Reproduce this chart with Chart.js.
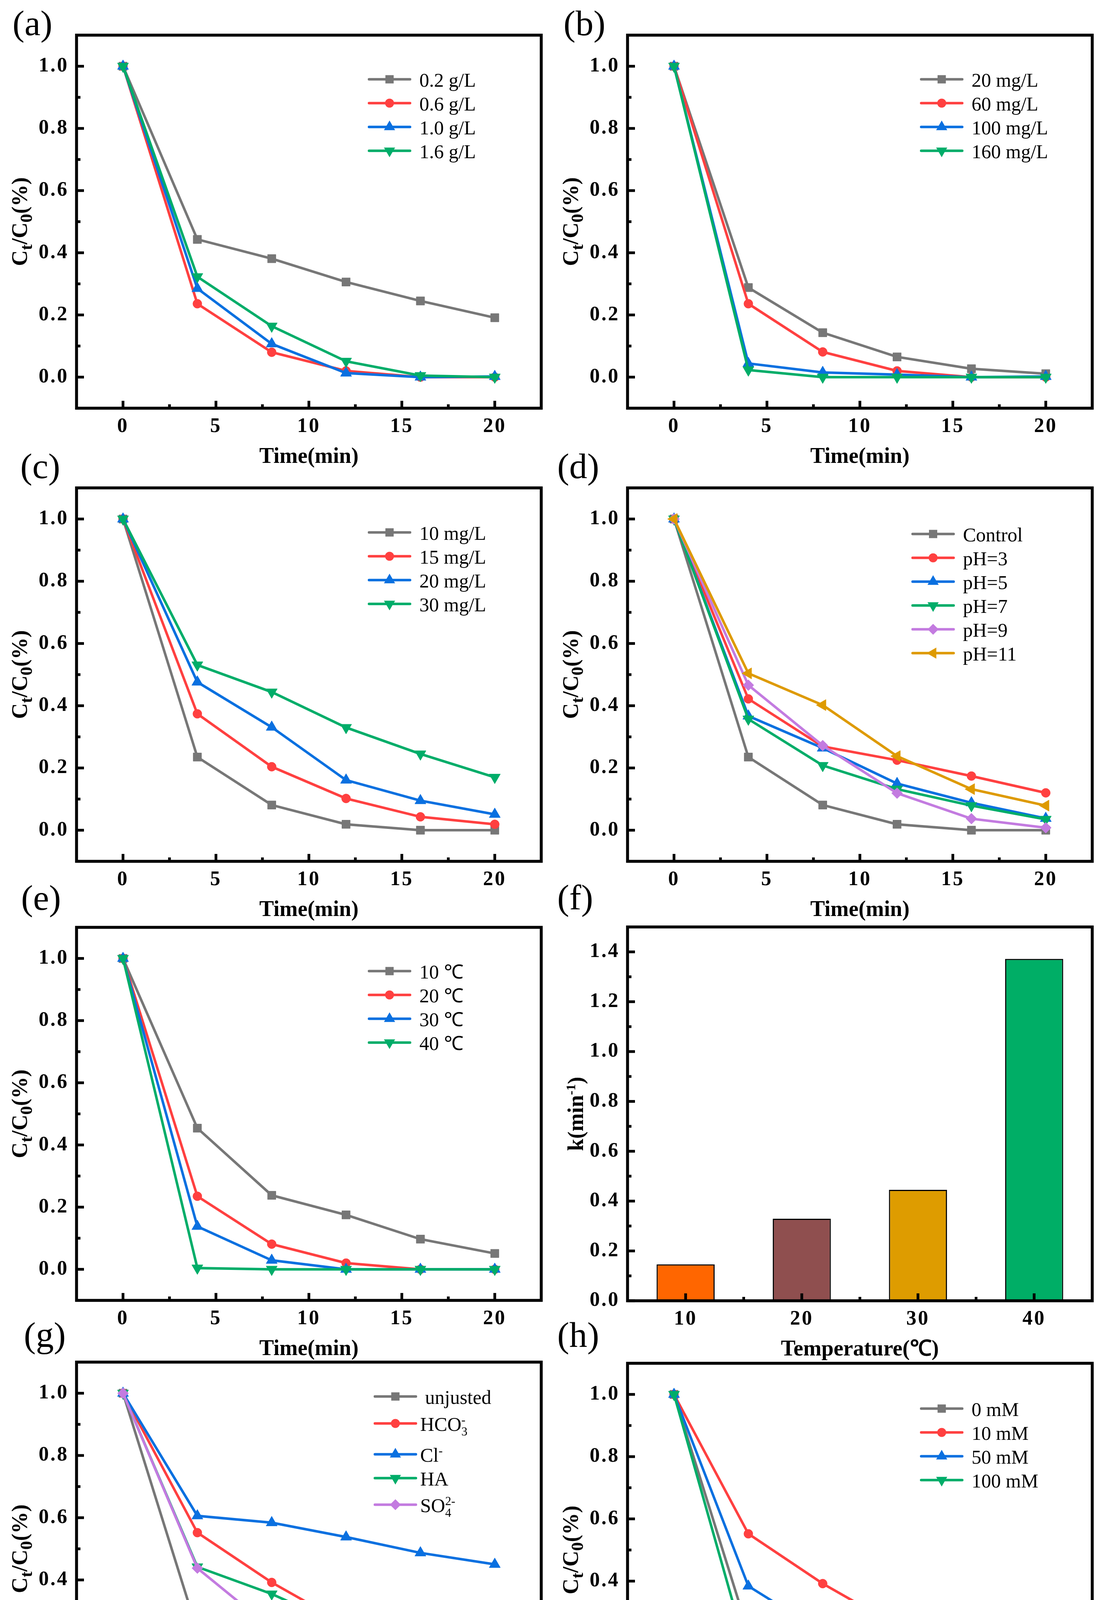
<!DOCTYPE html>
<html>
<head>
<meta charset="utf-8">
<title>Degradation kinetics</title>
<script src="https://cdn.jsdelivr.net/npm/chart.js@4.4.1/dist/chart.umd.min.js"></script>
<style>
  html, body { margin: 0; padding: 0; background: #fff; }
  #page { position: relative; width: 2822px; height: 4625px; overflow: hidden; background: #fff; }
  #page canvas { position: absolute; }
</style>
</head>
<body>
<div id="page"></div>
<script>
// shared axes of the kinetic panels
const timeMin = [0, 4, 8, 12, 16, 20];
const timeTicks = [0, 5, 10, 15, 20];
const timeMinorTicks = [2.5, 7.5, 12.5, 17.5];
const ratioTicks = [0, 0.2, 0.4, 0.6, 0.8, 1.0];
const ratioMinorTicks = [0.1, 0.3, 0.5, 0.7, 0.9];

// (a) catalyst dosage
const dosageLabels = ['0.2 g/L', '0.6 g/L', '1.0 g/L', '1.6 g/L'];
const dosage02 = [1.0, 0.443, 0.381, 0.306, 0.245, 0.191];
const dosage06 = [1.0, 0.236, 0.080, 0.020, 0.0, 0.0];
const dosage10 = [1.0, 0.285, 0.107, 0.013, 0.0, 0.002];
const dosage16 = [1.0, 0.323, 0.164, 0.051, 0.005, 0.0];

// (b) oxidant concentration
const oxidantLabels = ['20 mg/L', '60 mg/L', '100 mg/L', '160 mg/L'];
const oxidant20 = [1.0, 0.288, 0.143, 0.065, 0.027, 0.011];
const oxidant60 = [1.0, 0.236, 0.081, 0.020, 0.0, 0.0];
const oxidant100 = [1.0, 0.044, 0.015, 0.008, 0.0, 0.002];
const oxidant160 = [1.0, 0.023, 0.0, 0.0, 0.0, 0.0];

// (c) pollutant concentration
const pollutantLabels = ['10 mg/L', '15 mg/L', '20 mg/L', '30 mg/L'];
const pollutant10 = [1.0, 0.235, 0.081, 0.019, 0.0, 0.0];
const pollutant15 = [1.0, 0.374, 0.204, 0.102, 0.043, 0.019];
const pollutant20 = [1.0, 0.476, 0.331, 0.161, 0.095, 0.051];
const pollutant30 = [1.0, 0.531, 0.444, 0.330, 0.245, 0.170];

// (d) initial pH
const phLabels = ['Control', 'pH=3', 'pH=5', 'pH=7', 'pH=9', 'pH=11'];
const phControl = [1.0, 0.235, 0.081, 0.019, 0.0, 0.0];
const ph3 = [1.0, 0.422, 0.269, 0.225, 0.174, 0.120];
const ph5 = [1.0, 0.367, 0.264, 0.150, 0.088, 0.038];
const ph7 = [1.0, 0.357, 0.208, 0.132, 0.079, 0.035];
const ph9 = [1.0, 0.466, 0.272, 0.119, 0.037, 0.008];
const ph11 = [1.0, 0.504, 0.402, 0.238, 0.132, 0.079];

// (e) temperature
const tempLabels = ['10 ℃', '20 ℃', '30 ℃', '40 ℃'];
const temp10 = [1.0, 0.454, 0.238, 0.175, 0.097, 0.051];
const temp20 = [1.0, 0.235, 0.081, 0.020, 0.0, 0.0];
const temp30 = [1.0, 0.138, 0.029, 0.0, 0.0, 0.0];
const temp40 = [1.0, 0.004, 0.0, 0.0, 0.0, 0.0];

// (f) rate constants
const tempCategories = ['10', '20', '30', '40'];
const rateK = [0.146, 0.329, 0.445, 1.372];
const rateTicks = [0, 0.2, 0.4, 0.6, 0.8, 1.0, 1.2, 1.4];
const rateMinorTicks = [0.1, 0.3, 0.5, 0.7, 0.9, 1.1, 1.3];
const categoryTicks = [0, 1, 2, 3];
const categoryMinorTicks = [0.5, 1.5, 2.5];

// (g) coexisting species
const ionLabels = [' unjusted', 'HCO₃⁻', 'Cl⁻', 'HA', 'SO₄²⁻'];
const ionNone = [1.0, 0.236, 0.082, 0.018, 0.0, 0.0];
const ionHCO3 = [1.0, 0.552, 0.392, 0.257, 0.179, 0.123];
const ionCl = [1.0, 0.606, 0.584, 0.538, 0.487, 0.450];
const ionHA = [1.0, 0.442, 0.355, 0.247, 0.134, 0.042];
const ionSO4 = [1.0, 0.438, 0.243, 0.105, 0.073, 0.028];

// (h) bicarbonate dose
const doseLabels = ['0 mM', '10 mM', '50 mM', '100 mM'];
const dose0 = [1.0, 0.236, 0.080, 0.019, 0.0, 0.0];
const dose10 = [1.0, 0.552, 0.392, 0.256, 0.179, 0.123];
const dose50 = [1.0, 0.384, 0.235, 0.076, 0.026, 0.022];
const dose100 = [1.0, 0.156, 0.090, 0.063, 0.021, 0.005];

const FAMILY = "'Liberation Serif', 'Times New Roman', serif";
Chart.defaults.font.family = FAMILY;
Chart.defaults.color = '#000';

const seriesStyles = [
    { color: '#777777', shape: 'rect', radius: 15, rotation: 0 },
    { color: '#ff4040', shape: 'circle', radius: 11.5, rotation: 0 },
    { color: '#0a70e0', shape: 'triangle', radius: 16.5, rotation: 0 },
    { color: '#00ad69', shape: 'triangle', radius: 16.5, rotation: 180 },
    { color: '#c37be0', shape: 'rectRot', radius: 14, rotation: 0 },
    { color: '#de9a00', shape: 'triangle', radius: 16.5, rotation: 270 }
];
const barColors = ['#ff6600', '#8f4f4f', '#de9c00', '#00ae66'];

const COL_W = 1411;
const BOX_LEFT = 196;
const BOX_RIGHT = 1386;
const Y_W = 120;
const X_H = 100;
const PAD_TOP = 140;
const PAD_BOTTOM = 190;
const RATIO_TITLE = 'Cₜ/C₀(%)';

const panels = [
    { tag: '(a)', col: 0, top: 90, bottom: 1045, tagPos: [-164, -23], labels: dosageLabels,
      series: [dosage02, dosage06, dosage10, dosage16], legend: { x: 749, y: 113, step: 61 } },
    { tag: '(b)', col: 1, top: 90, bottom: 1045, tagPos: [-164, -23], labels: oxidantLabels,
      series: [oxidant20, oxidant60, oxidant100, oxidant160], legend: { x: 752, y: 113, step: 61 } },
    { tag: '(c)', col: 0, top: 1249, bottom: 2205, tagPos: [-144, -48], labels: pollutantLabels,
      series: [pollutant10, pollutant15, pollutant20, pollutant30], legend: { x: 749, y: 114, step: 61 } },
    { tag: '(d)', col: 1, top: 1249, bottom: 2205, tagPos: [-180, -48], labels: phLabels,
      series: [phControl, ph3, ph5, ph7, ph9, ph11], legend: { x: 730, y: 118, step: 61 } },
    { tag: '(e)', col: 0, top: 2374, bottom: 3329, tagPos: [-142, -68], labels: tempLabels,
      series: [temp10, temp20, temp30, temp40], legend: { x: 749, y: 112, step: 61 } },
    { tag: '(f)', col: 1, top: 2373, bottom: 3330, tagPos: [-180, -68], bar: true },
    { tag: '(g)', col: 0, top: 3487, bottom: 4443, tagPos: [-135, -62], labels: ionLabels,
      series: [ionNone, ionHCO3, ionCl, ionHA, ionSO4], legend: { x: 764, rows: [88, 157, 236, 297, 365], gap: 11 } },
    { tag: '(h)', col: 1, top: 3490, bottom: 4446, tagPos: [-180, -65], labels: doseLabels,
      series: [dose0, dose10, dose50, dose100], legend: { x: 752, y: 116, step: 61 } }
];

// text with unicode sub/superscripts drawn as real offsets (sub and sup stack like Origin)
const SUB = { '₀': '0', '₁': '1', '₂': '2', '₃': '3', '₄': '4', 'ₜ': 't' };
const SUP = { '⁻': '-', '¹': '1', '²': '2', '³': '3' };

function richRuns(text) {
    const runs = [];
    for (const ch of text) {
        const kind = SUB[ch] ? 'sub' : (SUP[ch] ? 'sup' : 'n');
        const c = SUB[ch] || SUP[ch] || ch;
        const last = runs[runs.length - 1];
        if (last && last.kind === kind) last.s += c;
        else runs.push({ s: c, kind: kind });
    }
    return runs;
}

function drawRich(ctx, text, x, y, size, weight, scale, align) {
    const items = [];
    let pos = 0, scriptStart = 0, lastKind = 'n';
    richRuns(text).forEach(run => {
        const fs = run.kind === 'n' ? size : size * scale;
        ctx.font = weight + ' ' + fs + 'px ' + FAMILY;
        const w = ctx.measureText(run.s).width;
        if (run.kind !== 'n' && lastKind !== 'n' && run.kind !== lastKind) {
            items.push({ s: run.s, x: scriptStart, fs: fs, kind: run.kind });
            pos = Math.max(pos, scriptStart + w);
        } else {
            if (run.kind !== 'n') scriptStart = pos;
            items.push({ s: run.s, x: pos, fs: fs, kind: run.kind });
            pos += w;
        }
        lastKind = run.kind;
    });
    const x0 = align === 'center' ? x - pos / 2 : x;
    ctx.textAlign = 'left';
    ctx.textBaseline = 'alphabetic';
    items.forEach(it => {
        ctx.font = weight + ' ' + it.fs + 'px ' + FAMILY;
        const dy = it.kind === 'sub' ? size * 0.24 : (it.kind === 'sup' ? -size * 0.36 : 0);
        ctx.fillText(it.s, x0 + it.x, y + dy);
    });
}

function drawMarker(ctx, style, x, y) {
    const r = style.radius;
    ctx.beginPath();
    if (style.shape === 'circle') {
        ctx.arc(x, y, r, 0, Math.PI * 2);
    } else if (style.shape === 'rect') {
        const s = r * Math.SQRT1_2;
        ctx.rect(x - s, y - s, 2 * s, 2 * s);
    } else if (style.shape === 'rectRot') {
        ctx.moveTo(x - r, y);
        ctx.lineTo(x, y - r);
        ctx.lineTo(x + r, y);
        ctx.lineTo(x, y + r);
        ctx.closePath();
    } else {
        let rad = style.rotation * Math.PI / 180;
        for (let k = 0; k < 3; k++) {
            const px = x + Math.sin(rad) * r;
            const py = y - Math.cos(rad) * r;
            if (k === 0) ctx.moveTo(px, py); else ctx.lineTo(px, py);
            rad += Math.PI * 2 / 3;
        }
        ctx.closePath();
    }
    ctx.fill();
}

// frame, inward ticks, titles, legend and panel tag
function decorate(p) {
    return {
        id: 'decorate',
        beforeDraw(chart) {
            // the tick numbers of the original are spaced out ("1. 0")
            chart.ctx.letterSpacing = '4px';
        },
        afterDatasetsDraw(chart) {
            const ctx = chart.ctx;
            const area = chart.chartArea;
            const xs = chart.scales.x;
            const ys = chart.scales.y;
            ctx.save();
            ctx.letterSpacing = '0px';
            ctx.strokeStyle = '#000';
            ctx.fillStyle = '#000';
            ctx.lineWidth = 7;
            const tick = (x1, y1, x2, y2) => {
                ctx.beginPath();
                ctx.moveTo(x1, y1);
                ctx.lineTo(x2, y2);
                ctx.stroke();
            };
            p.xMajor.forEach(v => { const px = xs.getPixelForValue(v); tick(px, area.bottom, px, area.bottom - 19); });
            p.xMinor.forEach(v => { const px = xs.getPixelForValue(v); tick(px, area.bottom, px, area.bottom - 10); });
            p.yMajor.forEach(v => { const py = ys.getPixelForValue(v); tick(area.left, py, area.left + 19, py); });
            p.yMinor.forEach(v => { const py = ys.getPixelForValue(v); tick(area.left, py, area.left + 10, py); });
            ctx.lineWidth = 7.5;
            ctx.strokeRect(area.left, area.top, area.right - area.left, area.bottom - area.top);

            drawRich(ctx, p.xTitle, (area.left + area.right) / 2, area.bottom + 121 + 19, 56, 'bold', 0.8, 'center');
            ctx.save();
            ctx.translate(area.left - p.yTitleGap, (area.top + area.bottom) / 2);
            ctx.rotate(-Math.PI / 2);
            drawRich(ctx, p.yTitle, 0, 19, 56, 'bold', p.bar ? 0.6 : 0.8, 'center');
            ctx.restore();

            ctx.font = '92px ' + FAMILY;
            ctx.textAlign = 'left';
            ctx.textBaseline = 'alphabetic';
            ctx.fillText(p.tag, area.left + p.tagPos[0], area.top + p.tagPos[1] + 23);

            if (p.legend) {
                const lg = p.legend;
                const lx = area.left + lg.x;
                p.labels.forEach((label, i) => {
                    const st = seriesStyles[i];
                    const ly = area.top + (lg.rows ? lg.rows[i] : lg.y + i * lg.step);
                    ctx.strokeStyle = st.color;
                    ctx.fillStyle = st.color;
                    ctx.lineWidth = 6.5;
                    ctx.lineCap = 'round';
                    tick(lx, ly, lx + 105, ly);
                    drawMarker(ctx, st, lx + 52.5, ly);
                    ctx.fillStyle = '#000';
                    drawRich(ctx, label, lx + 105 + (lg.gap || 24), ly + 19, 50, 'normal', 0.62, 'left');
                });
            }
            ctx.restore();
        }
    };
}

function makeChart(p) {
    const page = document.getElementById('page');
    const colX = p.col * COL_W;
    const height = p.bottom - p.top + PAD_TOP + PAD_BOTTOM;
    const canvas = document.createElement('canvas');
    canvas.width = COL_W;
    canvas.height = height;
    canvas.style.left = colX + 'px';
    canvas.style.top = (p.top - PAD_TOP) + 'px';
    canvas.style.width = COL_W + 'px';
    canvas.style.height = height + 'px';
    page.appendChild(canvas);

    const tickFont = { size: 52, weight: 'bold', family: FAMILY };
    let data, xScale, yScale;

    if (p.bar) {
        p.xTitle = 'Temperature(℃)';
        p.yTitle = 'k(min⁻¹)';
        p.yTitleGap = 133;
        p.xMajor = categoryTicks;
        p.xMinor = categoryMinorTicks;
        p.yMajor = rateTicks;
        p.yMinor = rateMinorTicks;
        data = {
            labels: tempCategories,
            datasets: [{
                data: rateK,
                backgroundColor: barColors,
                borderColor: '#000',
                borderWidth: 3,
                barPercentage: 1,
                categoryPercentage: 0.5
            }]
        };
        xScale = { type: 'category', offset: true };
        yScale = {
            type: 'linear', min: 0, max: 1.5,
            afterBuildTicks: s => { s.ticks = rateTicks.map(v => ({ value: v })); }
        };
    } else {
        p.xTitle = 'Time(min)';
        p.yTitle = RATIO_TITLE;
        p.yTitleGap = 146;
        p.xMajor = timeTicks;
        p.xMinor = timeMinorTicks;
        p.yMajor = ratioTicks;
        p.yMinor = ratioMinorTicks;
        const n = p.series.length;
        data = {
            datasets: p.series.map((values, i) => {
                const st = seriesStyles[i];
                return {
                    label: p.labels[i],
                    data: values.map((v, k) => ({ x: timeMin[k], y: v })),
                    borderColor: st.color,
                    backgroundColor: st.color,
                    borderWidth: 6.5,
                    pointStyle: st.shape,
                    pointRotation: st.rotation,
                    pointRadius: st.radius,
                    pointHoverRadius: st.radius,
                    pointBorderWidth: 1,
                    pointBorderColor: st.color,
                    pointBackgroundColor: st.color,
                    order: n - i,
                    clip: false
                };
            })
        };
        xScale = {
            type: 'linear', min: -2.5, max: 22.5,
            afterBuildTicks: s => { s.ticks = timeTicks.map(v => ({ value: v })); }
        };
        yScale = {
            type: 'linear', min: -0.1, max: 1.1,
            afterBuildTicks: s => { s.ticks = ratioTicks.map(v => ({ value: v })); }
        };
    }

    Object.assign(xScale, {
        afterFit: s => { s.height = X_H; },
        grid: { display: false, drawTicks: false },
        border: { display: false },
        ticks: { font: tickFont, color: '#000', padding: 16, autoSkip: false, maxRotation: 0 }
    });
    Object.assign(yScale, {
        afterFit: s => { s.width = Y_W; },
        grid: { display: false, drawTicks: false },
        border: { display: false },
        ticks: { font: tickFont, color: '#000', padding: 20, callback: v => Number(v).toFixed(1) }
    });

    new Chart(canvas, {
        type: p.bar ? 'bar' : 'line',
        data: data,
        options: {
            responsive: false,
            maintainAspectRatio: false,
            devicePixelRatio: 1,
            animation: false,
            layout: {
                padding: {
                    left: BOX_LEFT - Y_W,
                    right: COL_W - BOX_RIGHT,
                    top: PAD_TOP,
                    bottom: PAD_BOTTOM - X_H
                }
            },
            plugins: { legend: { display: false }, tooltip: { enabled: false } },
            scales: { x: xScale, y: yScale }
        },
        plugins: [decorate(p)]
    });
}

panels.forEach(makeChart);
</script>
</body>
</html>
